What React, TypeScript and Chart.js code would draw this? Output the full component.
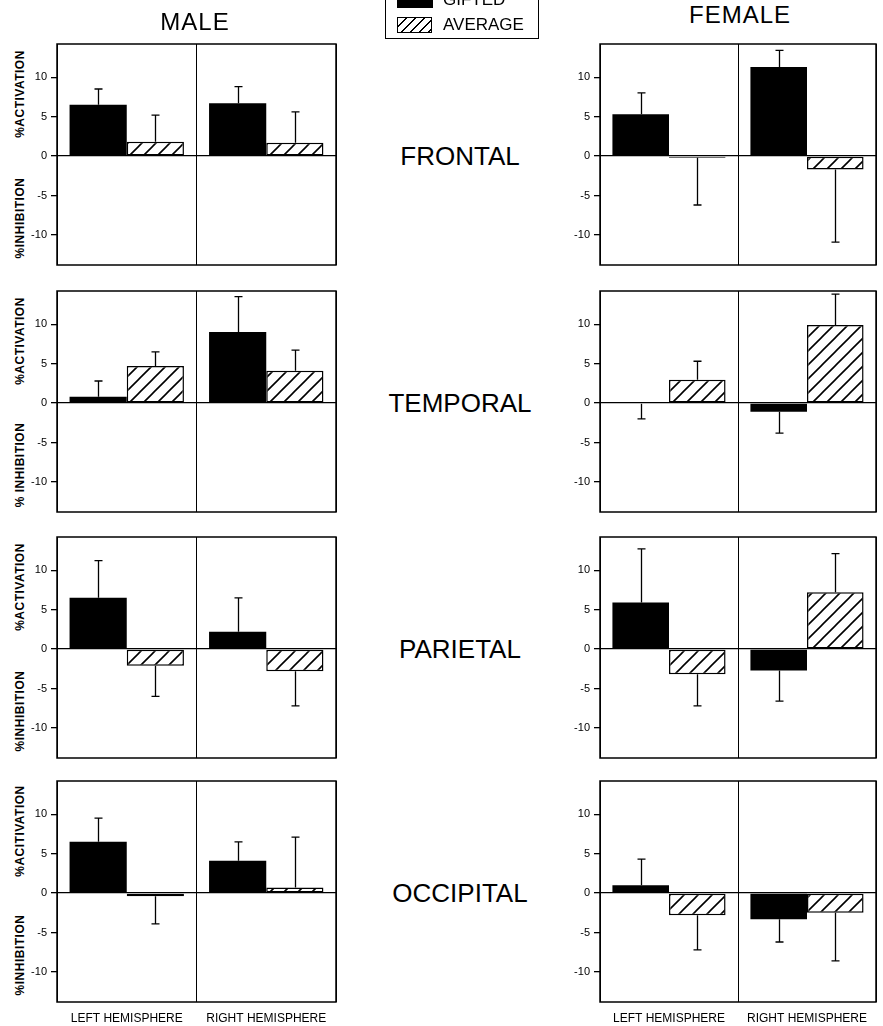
import React, { useEffect, useRef } from 'react';
import { Chart, registerables } from 'chart.js';

Chart.register(...registerables);

const FONT = "'Liberation Sans', Arial, Helvetica, sans-serif";
Chart.defaults.font.family = FONT;

// ---------- data ----------
const CATEGORIES = ['LEFT HEMISPHERE', 'RIGHT HEMISPHERE'];
const REGIONS = ['FRONTAL', 'TEMPORAL', 'PARIETAL', 'OCCIPITAL'];
const GROUPS = ['MALE', 'FEMALE'];
const SERIES = ['GIFTED', 'AVERAGE'];
const Y_TICKS = [-10, -5, 0, 5, 10];
const Y_MIN = -13.8;
const Y_MAX = 14.2;

// rows: frontal, temporal, parietal, occipital; each [left, right]
const MALE_GIFTED = [[6.5, 6.7], [0.8, 9.0], [6.5, 2.2], [6.5, 4.1]];
const MALE_GIFTED_ERR = [[2.0, 2.1], [2.0, 4.5], [4.7, 4.3], [3.0, 2.4]];
const MALE_AVERAGE = [[1.8, 1.7], [4.7, 4.1], [-2.1, -2.8], [-0.4, 0.7]];
const MALE_AVERAGE_ERR = [[3.4, 3.9], [1.8, 2.6], [3.9, 4.4], [3.5, 6.4]];
const FEMALE_GIFTED = [[5.3, 11.3], [-0.1, -1.1], [5.9, -2.7], [1.0, -3.3]];
const FEMALE_GIFTED_ERR = [[2.7, 2.1], [1.9, 2.7], [6.8, 3.9], [3.3, 2.9]];
const FEMALE_AVERAGE = [[-0.2, -1.7], [2.95, 9.9], [-3.2, 7.2], [-2.8, -2.5]];
const FEMALE_AVERAGE_ERR = [[6.0, 9.2], [2.35, 3.9], [4.0, 4.9], [4.4, 6.1]];

const ACTIVATION_TITLES = ['%ACTIVATION', '%ACTIVATION', '%ACTIVATION', '%ACITIVATION'];
const INHIBITION_TITLES = ['%INHIBITION', '% INHIBITION', '%INHIBITION', '%INHIBITION'];

// ---------- layout ----------
const COLS = [
  { left: 57, width: 279 },
  { left: 600, width: 276 },
];
const ROW_TOPS = [44, 291, 537, 781];
const PANEL_H = 221;
const Y_AXIS_W = 30;
const PAD = 10;
const X_AXIS_H = 26;

function zeroY(r: number) {
  return ROW_TOPS[r] + (Y_MAX / (Y_MAX - Y_MIN)) * PANEL_H;
}

function makeHatch(ctx: CanvasRenderingContext2D): CanvasPattern {
  const s = 14;
  const c = document.createElement('canvas');
  c.width = s;
  c.height = s;
  const g = c.getContext('2d')!;
  g.fillStyle = '#fff';
  g.fillRect(0, 0, s, s);
  g.strokeStyle = '#000';
  g.lineWidth = 1.6;
  g.beginPath();
  g.moveTo(-2, s + 2);
  g.lineTo(s + 2, -2);
  g.moveTo(-3, 3);
  g.lineTo(3, -3);
  g.moveTo(s - 3, s + 3);
  g.lineTo(s + 3, s - 3);
  g.stroke();
  return ctx.createPattern(c, 'repeat')!;
}

const errorBarPlugin = {
  id: 'errorBars',
  afterDatasetsDraw(chart: any) {
    const ctx = chart.ctx;
    const yScale = chart.scales.y;
    ctx.save();
    ctx.strokeStyle = '#000';
    ctx.lineWidth = 1.3;
    chart.data.datasets.forEach((ds: any, di: number) => {
      const meta = chart.getDatasetMeta(di);
      meta.data.forEach((el: any, i: number) => {
        const v = ds.data[i];
        const e = ds.errors[i];
        const dir = v < 0 ? -1 : 1;
        const y0 = el.y;
        const y1 = yScale.getPixelForValue(v + dir * e);
        const x = Math.round(el.x) + 0.5;
        ctx.beginPath();
        ctx.moveTo(x, y0);
        ctx.lineTo(x, y1);
        ctx.moveTo(x - 4, y1);
        ctx.lineTo(x + 4, y1);
        ctx.stroke();
      });
    });
    ctx.restore();
  },
};

const boxPlugin = {
  id: 'panelBox',
  afterDraw(chart: any) {
    const { ctx, chartArea } = chart;
    ctx.save();
    ctx.strokeStyle = '#000';
    ctx.lineWidth = 1.5;
    ctx.strokeRect(chartArea.left, chartArea.top, chartArea.right - chartArea.left, chartArea.bottom - chartArea.top);
    ctx.restore();
  },
};

type PanelProps = {
  gifted: number[];
  giftedErr: number[];
  average: number[];
  averageErr: number[];
  showX: boolean;
  left: number;
  top: number;
  width: number;
  height: number;
};

function Panel(p: PanelProps) {
  const ref = useRef<HTMLCanvasElement>(null);
  useEffect(() => {
    const canvas = ref.current!;
    const ctx = canvas.getContext('2d')!;
    const hatch = makeHatch(ctx);
    const chart = new Chart(canvas, {
      type: 'bar',
      data: {
        labels: CATEGORIES,
        datasets: [
          {
            label: SERIES[0],
            data: p.gifted,
            errors: p.giftedErr,
            backgroundColor: '#000',
            borderWidth: 0,
            categoryPercentage: 0.82,
            barPercentage: 1.0,
          } as any,
          {
            label: SERIES[1],
            data: p.average,
            errors: p.averageErr,
            backgroundColor: hatch,
            borderColor: '#000',
            borderWidth: 1.5,
            borderSkipped: false,
            categoryPercentage: 0.82,
            barPercentage: 1.0,
          } as any,
        ],
      },
      options: {
        responsive: false,
        animation: false,
        layout: { padding: { top: PAD, right: PAD, bottom: p.showX ? 0 : PAD, left: 0 } },
        plugins: { legend: { display: false }, tooltip: { enabled: false } },
        scales: {
          x: {
            type: 'category',
            offset: true,
            grid: { display: true, color: '#000', lineWidth: 1, drawTicks: false, offset: true },
            border: { display: false },
            ticks: {
              display: p.showX,
              padding: 9,
              color: '#000',
              maxRotation: 0,
              autoSkip: false,
              font: { family: FONT, size: 12 },
            },
            afterFit: (s: any) => {
              s.height = p.showX ? X_AXIS_H : 0;
              s.paddingLeft = 0;
              s.paddingRight = 0;
            },
          },
          y: {
            type: 'linear',
            min: Y_MIN,
            max: Y_MAX,
            afterBuildTicks: (s: any) => {
              s.ticks = Y_TICKS.map((v) => ({ value: v }));
            },
            grid: {
              color: (c: any) => (c.tick && c.tick.value === 0 ? '#000' : 'rgba(0,0,0,0)'),
              lineWidth: 1.3,
              tickColor: '#000',
              tickLength: 6,
              drawTicks: true,
            },
            border: { display: false },
            ticks: { padding: 4, color: '#000', font: { family: FONT, size: 11 } },
            afterFit: (s: any) => {
              s.width = Y_AXIS_W;
              s.paddingTop = 0;
              s.paddingBottom = 0;
            },
          },
        },
      } as any,
      plugins: [errorBarPlugin, boxPlugin],
    });
    return () => chart.destroy();
  }, []);
  return (
    <canvas
      ref={ref}
      width={p.width}
      height={p.height}
      style={{ position: 'absolute', left: p.left, top: p.top, width: p.width, height: p.height }}
    />
  );
}

const abs = (extra: React.CSSProperties): React.CSSProperties => ({
  position: 'absolute',
  whiteSpace: 'nowrap',
  fontFamily: FONT,
  color: '#000',
  ...extra,
});

export default function App() {
  const panels: React.ReactNode[] = [];
  const labels: React.ReactNode[] = [];
  REGIONS.forEach((region, r) => {
    const showX = r === REGIONS.length - 1;
    [0, 1].forEach((c) => {
      const col = COLS[c];
      const isMale = c === 0;
      panels.push(
        <Panel
          key={`p-${r}-${c}`}
          gifted={isMale ? MALE_GIFTED[r] : FEMALE_GIFTED[r]}
          giftedErr={isMale ? MALE_GIFTED_ERR[r] : FEMALE_GIFTED_ERR[r]}
          average={isMale ? MALE_AVERAGE[r] : FEMALE_AVERAGE[r]}
          averageErr={isMale ? MALE_AVERAGE_ERR[r] : FEMALE_AVERAGE_ERR[r]}
          showX={showX}
          left={col.left - Y_AXIS_W}
          top={ROW_TOPS[r] - PAD}
          width={Y_AXIS_W + col.width + PAD}
          height={PAD + PANEL_H + (showX ? X_AXIS_H : PAD)}
        />
      );
    });
    const z = zeroY(r);
    labels.push(
      <div key={`reg-${r}`} style={abs({ left: 460, top: z, transform: 'translate(-50%, -50%)', fontSize: 26 })}>
        {region}
      </div>
    );
    labels.push(
      <div
        key={`act-${r}`}
        style={abs({ left: 20, top: z - 62, transform: 'translate(-50%, -50%) rotate(-90deg)', fontSize: 12, fontWeight: 'bold', letterSpacing: 0.5 })}
      >
        {ACTIVATION_TITLES[r]}
      </div>
    );
    labels.push(
      <div
        key={`inh-${r}`}
        style={abs({ left: 20, top: z + 62, transform: 'translate(-50%, -50%) rotate(-90deg)', fontSize: 12, fontWeight: 'bold', letterSpacing: 0.5 })}
      >
        {INHIBITION_TITLES[r]}
      </div>
    );
  });

  return (
    <div style={{ position: 'absolute', left: 0, top: 0, width: 883, height: 1026, overflow: 'hidden', background: '#fff' }}>
      {panels}
      {labels}
      <div style={abs({ left: 195, top: 22, transform: 'translate(-50%, -50%)', fontSize: 24, letterSpacing: 1 })}>{GROUPS[0]}</div>
      <div style={abs({ left: 740, top: 15, transform: 'translate(-50%, -50%)', fontSize: 24, letterSpacing: 1 })}>{GROUPS[1]}</div>
      <div style={abs({ left: 385, top: -14, width: 152, height: 51, border: '1.5px solid #000' })} />
      <div style={abs({ left: 397, top: -9, width: 36, height: 17, background: '#000' })} />
      <div style={abs({ left: 443, top: 0, transform: 'translateY(-50%)', fontSize: 17 })}>{SERIES[0]}</div>
      <div
        style={abs({
          left: 397,
          top: 17,
          width: 33,
          height: 14,
          border: '1.5px solid #000',
          background: 'repeating-linear-gradient(135deg, #fff 0px, #fff 5px, #000 5px, #000 6.5px)',
        })}
      />
      <div style={abs({ left: 443, top: 25, transform: 'translateY(-50%)', fontSize: 17 })}>{SERIES[1]}</div>
    </div>
  );
}
